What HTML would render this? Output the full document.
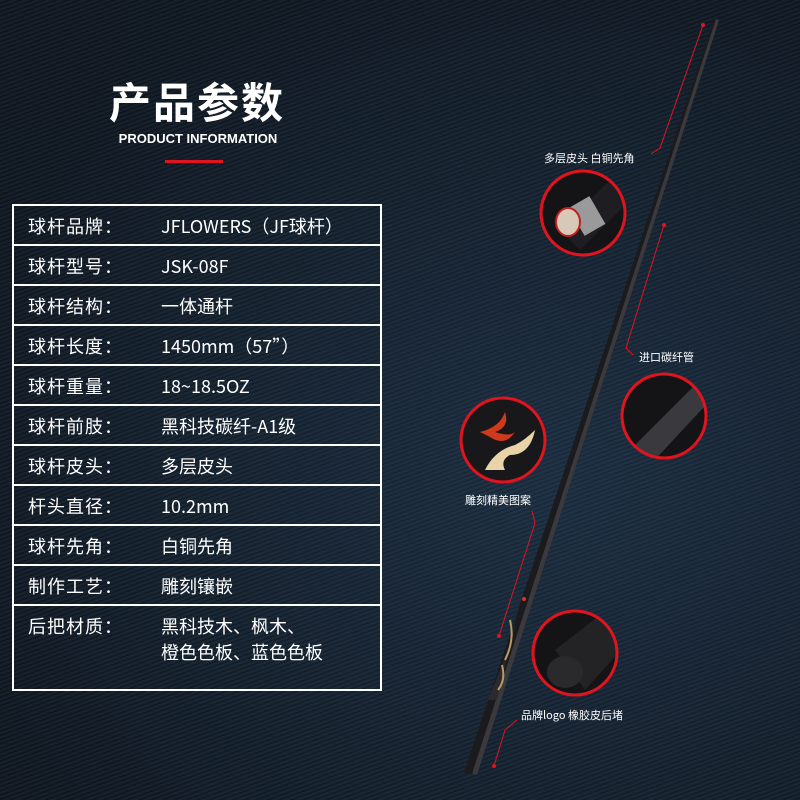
<!DOCTYPE html>
<html><head><meta charset="utf-8"><style>
html,body{margin:0;padding:0}
body{width:800px;height:800px;overflow:hidden;position:relative;font-family:"Liberation Sans","Noto Sans CJK SC",sans-serif;color:#fff;
background:repeating-linear-gradient(160deg,#1d2a38 0px,#1d2a38 2px,#121a24 3px,#121a24 4px),#18222e;}
.bg2{position:absolute;inset:0;background:radial-gradient(ellipse at 70% 60%,rgba(40,70,100,.35),rgba(0,0,0,.25) 80%);}
.t1{position:absolute;left:2px;width:390px;top:70px;text-align:center;font-size:42px;font-weight:bold;letter-spacing:2px;font-family:"Noto Sans CJK SC",sans-serif}
.t2{position:absolute;left:0;width:396px;top:131px;text-align:center;font-size:13px;font-weight:bold}
.bar{position:absolute;left:165px;top:160px;width:58px;height:3px;background:#e0141e}
.tbl{position:absolute;left:12px;top:204px;width:366px;border:2px solid #fff;}
.r{height:38px;border-bottom:2px solid #fff;position:relative;font-size:18px;font-family:"Noto Sans CJK SC",sans-serif}
.r:last-child{border-bottom:none;height:83px}
.r .l{position:absolute;left:14px;top:7px;letter-spacing:1px}
.r .v{position:absolute;left:147px;top:7px;line-height:26px}
.lab{position:absolute;font-size:11px;font-family:"Noto Sans CJK SC",sans-serif;white-space:nowrap}
</style></head><body>
<div class="bg2"></div>
<div class="t1">产品参数</div>
<div class="t2">PRODUCT INFORMATION</div>
<div class="bar"></div>
<div class="tbl">
<div class="r"><span class="l">球杆品牌：</span><span class="v">JFLOWERS（JF球杆）</span></div>
<div class="r"><span class="l">球杆型号：</span><span class="v">JSK-08F</span></div>
<div class="r"><span class="l">球杆结构：</span><span class="v">一体通杆</span></div>
<div class="r"><span class="l">球杆长度：</span><span class="v">1450mm（57”）</span></div>
<div class="r"><span class="l">球杆重量：</span><span class="v">18~18.5OZ</span></div>
<div class="r"><span class="l">球杆前肢：</span><span class="v">黑科技碳纤-A1级</span></div>
<div class="r"><span class="l">球杆皮头：</span><span class="v">多层皮头</span></div>
<div class="r"><span class="l">杆头直径：</span><span class="v">10.2mm</span></div>
<div class="r"><span class="l">球杆先角：</span><span class="v">白铜先角</span></div>
<div class="r"><span class="l">制作工艺：</span><span class="v">雕刻镶嵌</span></div>
<div class="r"><span class="l">后把材质：</span><span class="v">黑科技木、枫木、<br>橙色色板、蓝色色板</span></div>
</div>
<svg width="800" height="800" style="position:absolute;left:0;top:0">
<defs>
<clipPath id="c1"><circle cx="583" cy="213" r="42"/></clipPath>
<clipPath id="c2"><circle cx="664" cy="416" r="42"/></clipPath>
<clipPath id="c3"><circle cx="503" cy="440" r="42"/></clipPath>
<clipPath id="c4"><circle cx="575" cy="653" r="42"/></clipPath>
</defs>
<polygon points="714,19 719,20 477,775 464,773" fill="#1b1b1e"/>
<polygon points="716,19 719,20 477,775 472,774" fill="#3a3a3e"/>
<polygon points="512,640 520,600 497,700 488,700" fill="#2a2a2e"/>
<path d="M505,660 q10,-20 5,-40 M498,690 q8,-10 4,-25" stroke="#b89a6a" stroke-width="2" fill="none"/>
<circle cx="524" cy="599" r="2" fill="#e03020"/>
<g clip-path="url(#c1)"><rect x="540" y="170" width="90" height="90" fill="#141416"/>
<polygon points="560,230 620,170 640,190 580,250" fill="#1e1e22"/>
<rect x="575" y="200" width="24" height="32" fill="#9a9a9a" transform="rotate(-30 587 216)"/>
<ellipse cx="568" cy="222" rx="12" ry="14" fill="#d8c8b8" stroke="#c02020" stroke-width="2"/></g>
<circle cx="583" cy="213" r="42" fill="none" stroke="#e0141e" stroke-width="3"/>
<g clip-path="url(#c2)"><rect x="620" y="372" width="90" height="90" fill="#141416"/>
<polygon points="630,450 700,380 715,395 650,465" fill="#3a3a3e"/></g>
<circle cx="664" cy="416" r="42" fill="none" stroke="#e0141e" stroke-width="3"/>
<g clip-path="url(#c3)"><rect x="460" y="396" width="90" height="90" fill="#18181a"/>
<path d="M480,432 q20,-5 25,-20 q5,15 -10,20 q15,5 20,0 q-10,15 -25,5 z" fill="#d03a1c"/>
<path d="M485,470 q10,-20 30,-25 q10,-5 20,-15 q-5,25 -25,25 q-10,5 -5,15 z" fill="#e8d4a8"/></g>
<circle cx="503" cy="440" r="42" fill="none" stroke="#e0141e" stroke-width="3"/>
<g clip-path="url(#c4)"><rect x="532" y="610" width="90" height="90" fill="#141416"/>
<polygon points="555,650 600,615 630,640 585,690" fill="#232326"/>
<ellipse cx="565" cy="672" rx="18" ry="16" fill="#2a2a2c"/></g>
<circle cx="575" cy="653" r="42" fill="none" stroke="#e0141e" stroke-width="3"/>
<g stroke="#e0141e" stroke-width="1" fill="none">
<polyline points="703,25 660,148 651,154"/>
<polyline points="664,225 626,348 633,355"/>
<polyline points="532,511 535,523 499,636"/>
<polyline points="517,720 505,730 494,766"/>
</g>
<g fill="#e0141e"><circle cx="703" cy="25" r="2"/><circle cx="664" cy="225" r="2"/><circle cx="499" cy="636" r="2"/><circle cx="494" cy="766" r="2"/></g>
</svg>
<div class="lab" style="left:544px;top:150px">多层皮头 白铜先角</div>
<div class="lab" style="left:639px;top:349px">进口碳纤管</div>
<div class="lab" style="left:465px;top:492px">雕刻精美图案</div>
<div class="lab" style="left:521px;top:707px">品牌logo 橡胶皮后堵</div>
</body></html>
